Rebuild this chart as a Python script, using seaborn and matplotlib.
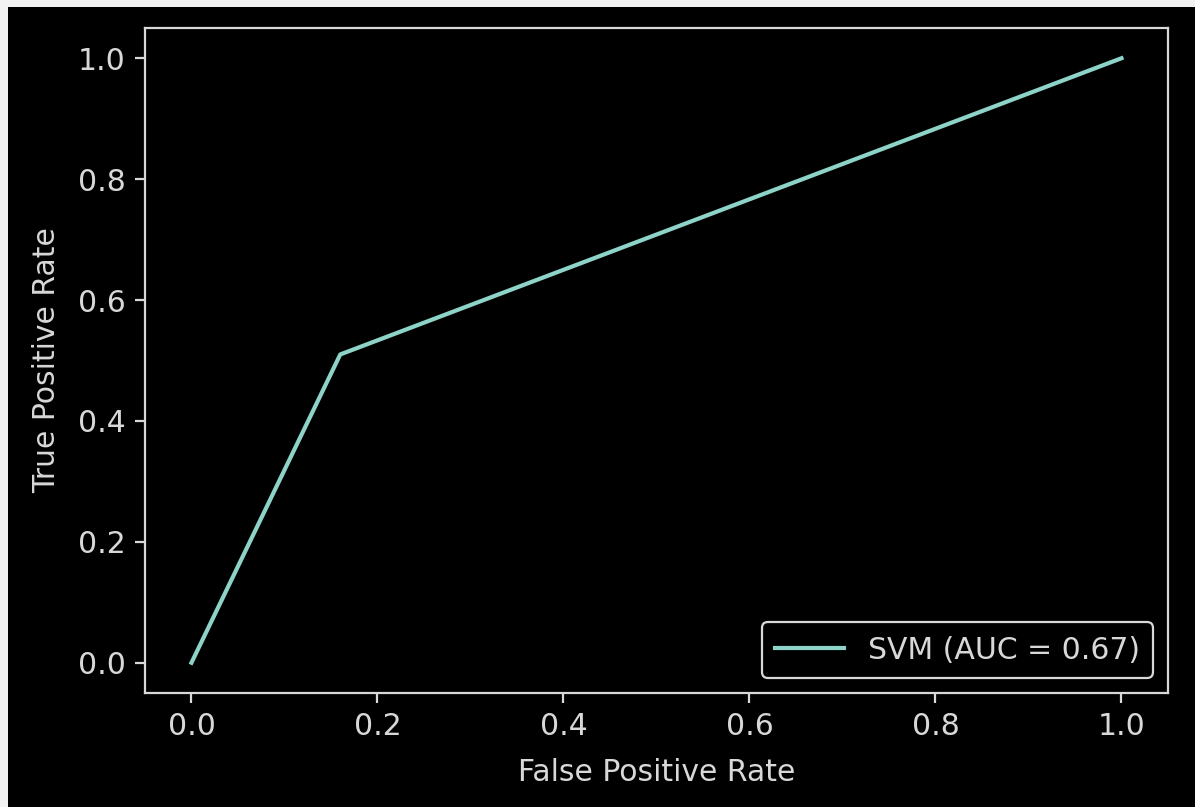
import matplotlib
matplotlib.use("Agg")
import matplotlib.pyplot as plt
from matplotlib.patches import Rectangle
import seaborn as sns
import pandas as pd

# ROC curve points for the SVM classifier
fpr = [0.0, 0.16, 1.0]
tpr = [0.0, 0.51, 1.0]
auc_value = 0.67
model_name = "SVM"
x_label = "False Positive Rate"
y_label = "True Positive Rate"
ticks = [0.0, 0.2, 0.4, 0.6, 0.8, 1.0]

plt.style.use("dark_background")
fg = "#d8d8d8"
plt.rcParams.update({
    "font.family": "DejaVu Sans",
    "font.size": 21.5,
    "axes.edgecolor": fg,
    "axes.labelcolor": fg,
    "xtick.color": fg,
    "ytick.color": fg,
    "text.color": fg,
    "axes.linewidth": 1.6,
    "xtick.major.width": 1.6,
    "ytick.major.width": 1.6,
    "xtick.major.size": 7,
    "ytick.major.size": 7,
    "xtick.major.pad": 7,
    "ytick.major.pad": 7,
})

df = pd.DataFrame({"fpr": fpr, "tpr": tpr})

fig = plt.figure(figsize=(11.95, 8.07), dpi=100, facecolor="black")
ax = fig.add_axes([0.1213, 0.1413, 0.8561, 0.8240])
ax.set_facecolor("black")

sns.lineplot(data=df, x="fpr", y="tpr", sort=False, ax=ax,
             color="#8dd3c7", linewidth=3.0,
             label=f"{model_name} (AUC = {auc_value:.2f})")

ax.set_xlim(-0.05, 1.05)
ax.set_ylim(-0.05, 1.05)
ax.set_xticks(ticks)
ax.set_yticks(ticks)
ax.set_xlabel(x_label, labelpad=12)
ax.set_ylabel(y_label, labelpad=12)

leg = ax.legend(loc="lower right", frameon=True, fancybox=True,
                handlelength=2.3, borderpad=0.45)
leg.get_frame().set_facecolor("black")
leg.get_frame().set_edgecolor(fg)
leg.get_frame().set_linewidth(1.6)
leg.get_frame().set_alpha(1.0)

# light margin strips along the top and left edges
fig.patches.append(Rectangle((0, 1 - 7 / 807), 1, 7 / 807, transform=fig.transFigure,
                             facecolor="#f2f2f2", edgecolor="none", zorder=-1))
fig.patches.append(Rectangle((0, 0), 8 / 1195, 1, transform=fig.transFigure,
                             facecolor="#f2f2f2", edgecolor="none", zorder=-1))

fig.savefig("out.png", dpi=100, facecolor="black")
